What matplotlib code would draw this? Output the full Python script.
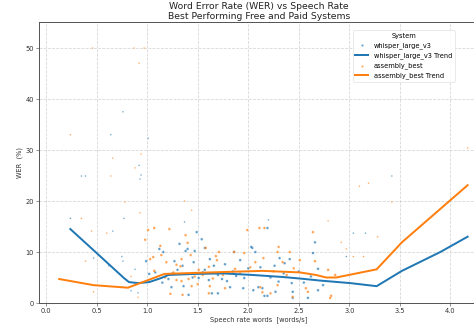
import matplotlib
matplotlib.use("Agg")
import matplotlib.pyplot as plt
import numpy as np

# Scatter data (speech rate, WER)
whisper_rate = [0.24,0.35,0.39,0.64,0.66,0.62,0.47,0.75,0.76,0.77,0.76,0.88,0.84,0.91,0.92,0.93,0.94,1.01,0.99,1.02,
                1.12,1.16,1.27,1.21,1.24,1.32,1.38,1.40,1.37,1.46,1.36,1.41,1.49,1.47,1.51,1.54,1.57,1.57,1.61,1.66,
                1.74,1.77,1.79,1.86,1.92,1.96,2.04,2.07,2.20,2.19,2.14,2.27,2.03,2.31,2.36,2.41,2.26,2.44,2.19,2.10,
                1.64,1.70,1.82,1.95,2.05,2.16,2.66,2.64,2.69,2.43,2.69,2.74,2.59,2.44,3.04,3.16,2.97,3.42,1.55,1.70,
                1.85,2.00,2.22,2.35,1.30,1.15,1.45,1.62,1.88,2.12,2.30,2.50,2.55,2.62,1.25,1.35,1.08]
whisper_wer = [16.6,24.9,24.9,33.0,14.1,7.3,8.8,9.1,8.2,16.6,37.5,6.6,2.4,2.0,27.0,24.3,25.1,32.3,8.2,5.7,
               10.6,10.0,8.2,4.7,3.1,11.6,10.2,10.6,15.9,8.0,3.3,1.6,13.9,10.2,4.9,12.5,10.8,6.5,4.5,7.3,
               4.7,7.6,4.3,10.0,8.4,4.9,10.8,10.0,16.3,14.7,2.9,2.2,11.0,8.8,7.8,8.6,7.3,2.2,1.4,3.1,
               1.9,1.9,3.1,2.9,2.5,1.4,11.9,9.8,6.7,3.9,2.5,3.5,1.0,1.0,13.7,13.7,9.1,24.9,6.0,5.5,
               6.2,6.8,5.0,5.8,6.5,4.0,5.0,8.6,5.3,7.0,4.2,6.2,4.0,5.2,5.8,7.3,6.0]

assembly_rate = [0.46,0.87,0.97,0.92,0.24,0.94,0.66,0.88,0.64,0.78,0.93,0.35,0.60,0.45,0.98,0.39,0.84,0.91,0.47,1.01,
                 1.07,1.03,1.06,1.07,1.13,1.14,1.22,1.19,1.29,1.23,1.29,1.34,1.33,1.38,1.40,1.37,1.44,1.43,1.34,1.41,
                 1.35,1.44,1.51,1.50,1.58,1.61,1.62,1.68,1.69,1.71,1.77,1.87,1.96,1.99,2.11,2.16,1.86,2.07,2.15,2.29,
                 2.41,2.30,2.34,2.51,2.29,2.44,2.12,2.14,2.22,1.61,1.75,2.64,2.79,2.92,3.28,2.97,3.04,3.14,2.66,2.79,
                 2.86,2.57,2.82,2.81,2.59,3.10,3.19,3.42,4.17,1.55,1.80,1.92,2.02,2.25,2.45,1.47,1.65,2.38,1.26,1.18]
assembly_wer = [50.0,50.0,50.0,47.0,33.0,29.2,28.4,26.5,24.9,19.8,17.7,16.6,13.7,14.1,12.4,8.2,5.2,1.1,2.2,14.3,
                14.7,8.6,9.0,6.3,11.2,9.4,14.5,8.0,7.5,1.8,4.5,8.6,7.2,13.3,11.8,20.0,18.2,9.4,4.3,4.7,
                1.6,3.3,6.5,3.7,10.8,7.1,3.3,9.2,8.4,10.0,2.9,6.7,9.8,14.3,14.7,14.7,10.0,8.0,8.8,10.0,
                10.0,11.0,8.0,8.4,3.5,1.2,3.1,2.1,1.9,1.9,5.5,13.9,16.1,11.9,13.0,10.6,9.1,9.1,8.2,6.5,
                5.5,2.9,1.4,1.0,2.2,22.9,23.5,19.8,30.4,5.5,6.0,5.8,7.0,6.2,6.8,5.2,4.8,5.5,6.0,5.0]

# Trend lines
whisper_trend_x = [0.24,0.50,0.77,0.82,0.91,1.02,1.14,1.21,1.47,1.75,2.04,2.34,2.51,2.71,3.01,3.27,3.52,3.90,4.17]
whisper_trend_y = [14.5,9.8,4.9,4.1,3.9,4.1,4.9,5.5,5.7,5.8,5.5,5.1,4.8,4.4,3.9,3.3,6.3,10.0,13.0]
assembly_trend_x = [0.13,0.47,0.81,1.01,1.17,1.47,1.80,2.14,2.51,2.67,2.77,2.87,3.27,3.52,4.17]
assembly_trend_y = [4.7,3.5,3.0,4.5,5.7,5.9,6.1,6.3,6.0,5.5,5.0,5.0,6.6,11.9,23.1]

x_ticks = [0.0,0.5,1.0,1.5,2.0,2.5,3.0,3.5,4.0]
y_ticks = [0,10,20,30,40,50]

blue = '#1f77b4'
orange = '#ff7f0e'


def marker_sizes(rates, wers):
    # outlying samples were drawn smaller / fainter in the original
    r = np.asarray(rates)
    w = np.asarray(wers)
    return np.where((w > 15) | (r < 0.95) | (r > 2.9), 6, 16)


DPI = 47.4
fig = plt.figure(figsize=(474/DPI, 329/DPI), dpi=DPI)
ax = fig.add_axes([39/474, 1-303/329, 1-39/474+0.01, (303-22)/329])

ax.scatter(whisper_rate, whisper_wer, s=marker_sizes(whisper_rate, whisper_wer), color=blue, alpha=0.7,
           edgecolors='white', linewidths=0.4, label='whisper_large_v3', zorder=3)
ax.plot(whisper_trend_x, whisper_trend_y, color=blue, lw=3, label='whisper_large_v3 Trend', zorder=4)
ax.scatter(assembly_rate, assembly_wer, s=marker_sizes(assembly_rate, assembly_wer), color=orange, alpha=0.7,
           edgecolors='white', linewidths=0.4, label='assembly_best', zorder=3)
ax.plot(assembly_trend_x, assembly_trend_y, color=orange, lw=3, label='assembly_best Trend', zorder=4)

ax.set_xlim(-0.07, 4.28)
ax.set_ylim(0, 55.1)
ax.set_xticks(x_ticks)
ax.set_yticks(y_ticks)
ax.grid(True, ls='--', color='#cccccc', lw=1.2, alpha=0.8)
for s in ax.spines.values():
    s.set_color('#555555')
    s.set_linewidth(1.5)
ax.tick_params(labelsize=10, colors='#333333', length=4)

ax.set_xlabel('Speech rate words  [words/s]', fontsize=10, color='#333333')
ax.set_ylabel('WER  (%)', fontsize=10, color='#333333')
ax.set_title('Word Error Rate (WER) vs Speech Rate\nBest Performing Free and Paid Systems',
             fontsize=14, color='#222222', pad=4, linespacing=1.15)

leg = ax.legend(title='System', fontsize=10, title_fontsize=10, loc='upper right',
                bbox_to_anchor=(458/474, 1-27/329), bbox_transform=fig.transFigure,
                markerscale=1.0, framealpha=0.9, edgecolor='#dddddd')
for h in leg.legend_handles:
    if hasattr(h, 'set_sizes'):
        h.set_sizes([12])

fig.savefig('out.png', dpi=DPI)
